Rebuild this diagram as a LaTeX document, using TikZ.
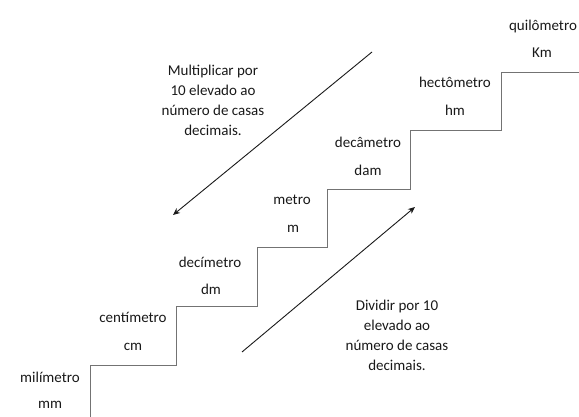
\documentclass[tikz,border=0pt]{standalone}
\usepackage{fontspec}
\setmainfont{Carlito}
\usetikzlibrary{positioning,arrows.meta}

\begin{document}
\begin{tikzpicture}[x=1pt,y=-1pt,
    unit/.style={inner sep=0pt, text=black!90, font=\fontsize{15}{18}\selectfont},
    note/.style={inner sep=0pt, align=center, text=black!90, font=\fontsize{15}{20}\selectfont},
    stair/.style={draw=black!55, line width=0.8pt},
    move/.style={draw=black!90, line width=0.9pt, -{Stealth[length=7pt,width=6pt]}}]
    \useasboundingbox (0,0) rectangle (579,417);

    % staircase
    \path[stair] (90,417) -- (90,365) -- (176,365) -- (176,306) -- (257,306) -- (257,247)
        -- (327,247) -- (327,189) -- (410,189) -- (410,130) -- (501,130) -- (501,72) -- (579,72);

    % units on the steps
    \node [unit] (mili) at (50,377) {milímetro};
    \node [unit] (mm) at (50,405) {mm};
    \node [unit] (centi) at (133,317) {centímetro};
    \node [unit] (cm) at (133,347) {cm};
    \node [unit] (deci) at (210,262) {decímetro};
    \node [unit] (dm) at (211,289) {dm};
    \node [unit] (metro) at (292,200) {metro};
    \node [unit] (m) at (293,229) {m};
    \node [unit] (deca) at (368,142) {decâmetro};
    \node [unit] (dam) at (368,170) {dam};
    \node [unit] (hecto) at (455,82) {hectômetro};
    \node [unit] (hm) at (455,110) {hm};
    \node [unit] (quilo) at (543,27) {quilômetro};
    \node [unit] (km) at (542,53) {Km};

    % rules
    \node [note] (mult) at (213,100) {Multiplicar por\\10 elevado ao\\número de casas\\decimais.};
    \node [note] (divi) at (397,335) {Dividir por 10\\elevado ao\\número de casas\\decimais.};

    \coordinate (multA) at (372,52);
    \coordinate (multB) at (173,215);
    \coordinate (diviA) at (242,352);
    \coordinate (diviB) at (415,207);
    \draw [move] (multA) -- (multB);
    \draw [move] (diviA) -- (diviB);
\end{tikzpicture}
\end{document}
